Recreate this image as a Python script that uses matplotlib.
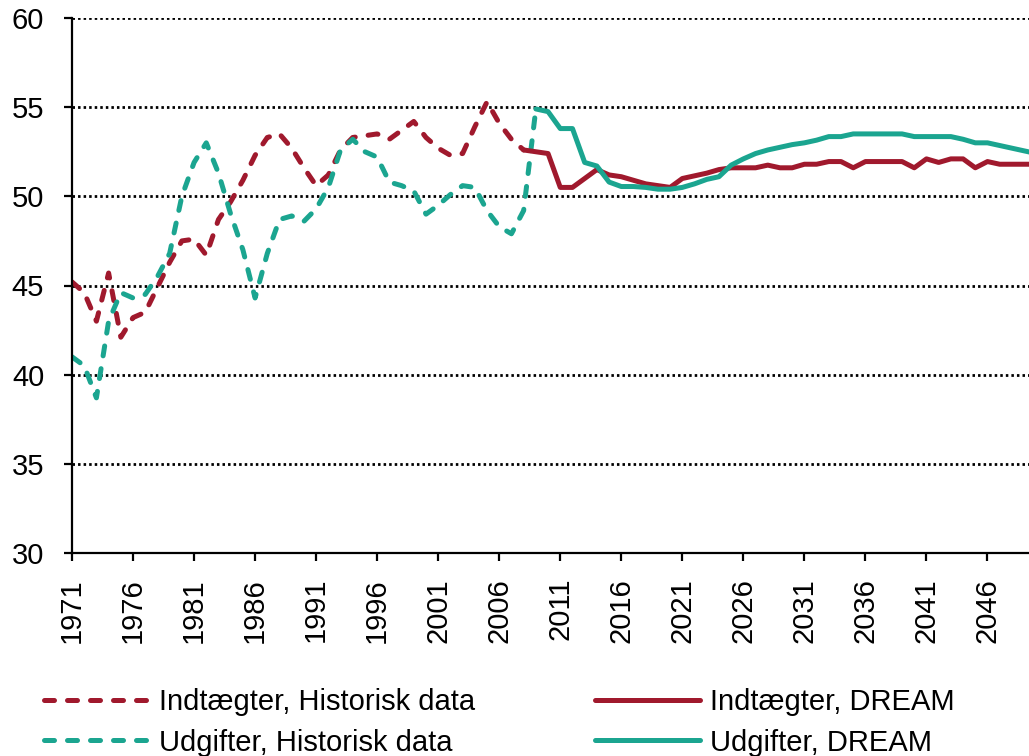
import numpy as np
import matplotlib
matplotlib.use("Agg")
import matplotlib.pyplot as plt

# data (pct.)
years_hist_ind = list(range(1971, 2009))
ind_hist = [45.2, 44.6, 43.0, 45.7, 42.1, 43.2, 43.5, 44.9, 46.3, 47.5,
            47.6, 46.7, 48.7, 49.7, 50.9, 52.3, 53.3, 53.5, 52.7, 51.6,
            50.6, 51.2, 52.6, 53.3, 53.4, 53.5, 53.2, 53.7, 54.2, 53.3,
            52.7, 52.3, 52.4, 53.9, 55.3, 54.1, 53.2, 52.6]

years_hist_udg = list(range(1971, 2010))
udg_hist = [41.0, 40.5, 38.7, 43.0, 44.6, 44.3, 44.5, 45.5, 46.8, 50.0,
            51.9, 53.0, 51.3, 49.0, 47.0, 44.3, 46.8, 48.7, 48.9, 48.6,
            49.3, 50.5, 52.6, 53.2, 52.5, 52.2, 50.8, 50.6, 50.3, 49.0,
            49.5, 50.1, 50.6, 50.5, 49.2, 48.3, 47.9, 49.2, 54.9]

years_dream_ind = list(range(2008, 2051))
ind_dream = [52.6, 52.5, 52.4, 50.5, 50.5, 51.0, 51.5, 51.2, 51.1, 50.9,
             50.7, 50.6, 50.5, 51.0, 51.15, 51.3, 51.5, 51.6, 51.6, 51.6,
             51.75, 51.6, 51.6, 51.8, 51.8, 51.95, 51.95, 51.6, 51.95, 51.95,
             51.95, 51.95, 51.6, 52.1, 51.9, 52.1, 52.1, 51.6, 51.95, 51.8,
             51.8, 51.8, 51.8]

years_dream_udg = list(range(2009, 2051))
udg_dream = [54.9, 54.75, 53.8, 53.8, 51.9, 51.7, 50.8, 50.55, 50.55, 50.5,
             50.4, 50.4, 50.5, 50.7, 50.95, 51.1, 51.75, 52.1, 52.4, 52.6,
             52.75, 52.9, 53.0, 53.15, 53.35, 53.35, 53.5, 53.5, 53.5, 53.5,
             53.5, 53.35, 53.35, 53.35, 53.35, 53.2, 53.0, 53.0, 52.85, 52.7,
             52.55, 52.4]

labels = ["Indtægter, Historisk data", "Udgifter, Historisk data",
          "Indtægter, DREAM", "Udgifter, DREAM"]

red = "#A0192D"
teal = "#1BA590"

plt.rc('font', family='Liberation Sans', size=21)

fig = plt.figure(figsize=(10.29, 7.56), dpi=100)
ax = fig.add_axes([72/1029, 1 - 553/756, 1 - 72/1029, (553 - 18)/756])

lw = 3.6
l1, = ax.plot(years_hist_ind, ind_hist, color=red, lw=lw, dashes=(2.0, 2.6),
              dash_capstyle='round', solid_joinstyle='round')
l2, = ax.plot(years_hist_udg, udg_hist, color=teal, lw=lw, dashes=(2.0, 2.6),
              dash_capstyle='round', solid_joinstyle='round')
l3, = ax.plot(years_dream_ind, ind_dream, color=red, lw=lw,
              solid_capstyle='round', solid_joinstyle='round')
l4, = ax.plot(years_dream_udg, udg_dream, color=teal, lw=lw,
              solid_capstyle='round', solid_joinstyle='round')

ax.set_ylim(30, 60)
ax.set_yticks(range(30, 61, 5))
ax.set_xlim(1971, 2049.4)
ax.set_xticks(range(1971, 2050, 5))
ax.set_xticklabels([str(y) for y in range(1971, 2050, 5)], rotation=90)

# dotted gridlines
for v in range(35, 61, 5):
    ax.axhline(v, color='black', lw=2.0, dashes=(0.9, 1.1), zorder=0)

ax.spines["right"].set_visible(False)
ax.spines["top"].set_visible(False)
ax.spines["left"].set_linewidth(1.6)
ax.spines["bottom"].set_linewidth(1.6)
ax.tick_params(axis='y', direction='out', length=6, width=1.6, pad=14)
ax.tick_params(axis='x', direction='out', length=6, width=1.6, pad=12)

fig.legend([l1, l2, l3, l4], labels, ncol=2, frameon=False,
           loc='upper left', bbox_to_anchor=(44/1029, 1 - 688/756),
           handlelength=3.6, handletextpad=0.35, columnspacing=4.1,
           labelspacing=0.43, borderpad=0, borderaxespad=0)

plt.savefig("out.png", dpi=100)
